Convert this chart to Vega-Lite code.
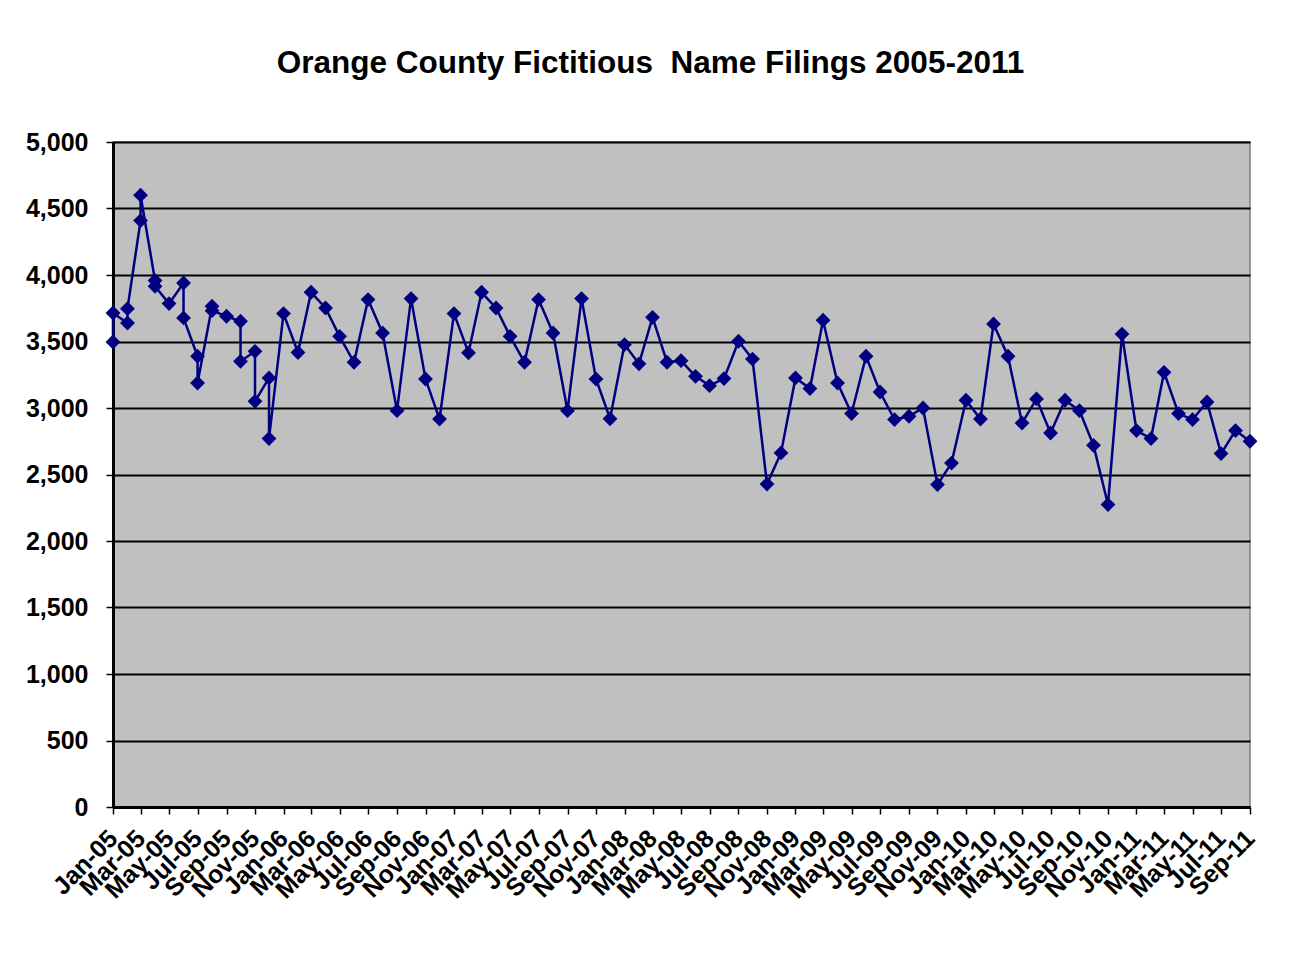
{
  "$schema": "https://vega.github.io/schema/vega-lite/v6.json",
  "autosize": "none",
  "width": 1137,
  "height": 665,
  "padding": {"left": 113, "top": 142, "right": 44, "bottom": 149},
  "background": "#ffffff",
  "title": {
    "text": "Orange County Fictitious \u00a0Name Filings 2005-2011",
    "font": "Liberation Sans",
    "fontWeight": "bold",
    "fontSize": 31.5,
    "color": "#000000",
    "anchor": "middle",
    "dx": -31,
    "offset": 51
  },
  "data": {
    "values": [
      {"i": 0, "date": "2005/01/01", "filings": 3496},
      {"i": 1, "date": "2005/01/01", "filings": 3714},
      {"i": 2, "date": "2005/02/01", "filings": 3639},
      {"i": 3, "date": "2005/02/01", "filings": 3747},
      {"i": 4, "date": "2005/03/01", "filings": 4409},
      {"i": 5, "date": "2005/03/01", "filings": 4600},
      {"i": 6, "date": "2005/04/01", "filings": 3958},
      {"i": 7, "date": "2005/04/01", "filings": 3915},
      {"i": 8, "date": "2005/05/01", "filings": 3785},
      {"i": 9, "date": "2005/06/01", "filings": 3940},
      {"i": 10, "date": "2005/06/01", "filings": 3677},
      {"i": 11, "date": "2005/07/01", "filings": 3389},
      {"i": 12, "date": "2005/07/01", "filings": 3188},
      {"i": 13, "date": "2005/08/01", "filings": 3765},
      {"i": 14, "date": "2005/08/01", "filings": 3732},
      {"i": 15, "date": "2005/09/01", "filings": 3690},
      {"i": 16, "date": "2005/10/01", "filings": 3652},
      {"i": 17, "date": "2005/10/01", "filings": 3351},
      {"i": 18, "date": "2005/11/01", "filings": 3426},
      {"i": 19, "date": "2005/11/01", "filings": 3050},
      {"i": 20, "date": "2005/12/01", "filings": 3226},
      {"i": 21, "date": "2005/12/01", "filings": 2770},
      {"i": 22, "date": "2006/01/01", "filings": 3710},
      {"i": 23, "date": "2006/02/01", "filings": 3417},
      {"i": 24, "date": "2006/03/01", "filings": 3870},
      {"i": 25, "date": "2006/04/01", "filings": 3752},
      {"i": 26, "date": "2006/05/01", "filings": 3539},
      {"i": 27, "date": "2006/06/01", "filings": 3344},
      {"i": 28, "date": "2006/07/01", "filings": 3815},
      {"i": 29, "date": "2006/08/01", "filings": 3564},
      {"i": 30, "date": "2006/09/01", "filings": 2980},
      {"i": 31, "date": "2006/10/01", "filings": 3823},
      {"i": 32, "date": "2006/11/01", "filings": 3218},
      {"i": 33, "date": "2006/12/01", "filings": 2917},
      {"i": 34, "date": "2007/01/01", "filings": 3710},
      {"i": 35, "date": "2007/02/01", "filings": 3415},
      {"i": 36, "date": "2007/03/01", "filings": 3870},
      {"i": 37, "date": "2007/04/01", "filings": 3752},
      {"i": 38, "date": "2007/05/01", "filings": 3539},
      {"i": 39, "date": "2007/06/01", "filings": 3344},
      {"i": 40, "date": "2007/07/01", "filings": 3815},
      {"i": 41, "date": "2007/08/01", "filings": 3564},
      {"i": 42, "date": "2007/09/01", "filings": 2980},
      {"i": 43, "date": "2007/10/01", "filings": 3823},
      {"i": 44, "date": "2007/11/01", "filings": 3218},
      {"i": 45, "date": "2007/12/01", "filings": 2919},
      {"i": 46, "date": "2008/01/01", "filings": 3477},
      {"i": 47, "date": "2008/02/01", "filings": 3332},
      {"i": 48, "date": "2008/03/01", "filings": 3682},
      {"i": 49, "date": "2008/04/01", "filings": 3344},
      {"i": 50, "date": "2008/05/01", "filings": 3356},
      {"i": 51, "date": "2008/06/01", "filings": 3238},
      {"i": 52, "date": "2008/07/01", "filings": 3168},
      {"i": 53, "date": "2008/08/01", "filings": 3221},
      {"i": 54, "date": "2008/09/01", "filings": 3502},
      {"i": 55, "date": "2008/10/01", "filings": 3368},
      {"i": 56, "date": "2008/11/01", "filings": 2428},
      {"i": 57, "date": "2008/12/01", "filings": 2662},
      {"i": 58, "date": "2009/01/01", "filings": 3226},
      {"i": 59, "date": "2009/02/01", "filings": 3146},
      {"i": 60, "date": "2009/03/01", "filings": 3660},
      {"i": 61, "date": "2009/04/01", "filings": 3188},
      {"i": 62, "date": "2009/05/01", "filings": 2958},
      {"i": 63, "date": "2009/06/01", "filings": 3389},
      {"i": 64, "date": "2009/07/01", "filings": 3120},
      {"i": 65, "date": "2009/08/01", "filings": 2913},
      {"i": 66, "date": "2009/09/01", "filings": 2938},
      {"i": 67, "date": "2009/10/01", "filings": 3000},
      {"i": 68, "date": "2009/11/01", "filings": 2424},
      {"i": 69, "date": "2009/12/01", "filings": 2586},
      {"i": 70, "date": "2010/01/01", "filings": 3058},
      {"i": 71, "date": "2010/02/01", "filings": 2917},
      {"i": 72, "date": "2010/03/01", "filings": 3632},
      {"i": 73, "date": "2010/04/01", "filings": 3389},
      {"i": 74, "date": "2010/05/01", "filings": 2887},
      {"i": 75, "date": "2010/06/01", "filings": 3068},
      {"i": 76, "date": "2010/07/01", "filings": 2812},
      {"i": 77, "date": "2010/08/01", "filings": 3058},
      {"i": 78, "date": "2010/09/01", "filings": 2980},
      {"i": 79, "date": "2010/10/01", "filings": 2719},
      {"i": 80, "date": "2010/11/01", "filings": 2274},
      {"i": 81, "date": "2010/12/01", "filings": 3556},
      {"i": 82, "date": "2011/01/01", "filings": 2830},
      {"i": 83, "date": "2011/02/01", "filings": 2770},
      {"i": 84, "date": "2011/03/01", "filings": 3268},
      {"i": 85, "date": "2011/04/01", "filings": 2958},
      {"i": 86, "date": "2011/05/01", "filings": 2913},
      {"i": 87, "date": "2011/06/01", "filings": 3045},
      {"i": 88, "date": "2011/07/01", "filings": 2657},
      {"i": 89, "date": "2011/08/01", "filings": 2830},
      {"i": 90, "date": "2011/09/01", "filings": 2750}
    ]
  },
  "encoding": {
    "x": {
      "field": "date",
      "type": "temporal",
      "scale": {"domain": [{"year": 2005, "month": 1, "date": 1}, {"year": 2011, "month": 9, "date": 1}], "nice": false},
      "axis": {
        "title": null,
        "format": "%b-%y",
        "tickCount": {"interval": "month", "step": 2},
        "labelAngle": -45,
        "labelAlign": "right",
        "labelBaseline": "middle",
        "labelFont": "Liberation Sans",
        "labelFontWeight": "bold",
        "labelFontSize": 25,
        "labelColor": "#000000",
        "labelOverlap": false,
        "labelPadding": 20,
        "labelFlush": false,
        "grid": false,
        "domainColor": "#000000",
        "domainWidth": 3,
        "tickColor": "#000000",
        "tickWidth": 1.5,
        "tickSize": 7
      }
    },
    "y": {
      "field": "filings",
      "type": "quantitative",
      "scale": {"domain": [0, 5000], "nice": false, "zero": true},
      "axis": {
        "title": null,
        "values": [0, 500, 1000, 1500, 2000, 2500, 3000, 3500, 4000, 4500, 5000],
        "format": ",.0f",
        "labelFont": "Liberation Sans",
        "labelFontWeight": "bold",
        "labelFontSize": 25,
        "labelColor": "#000000",
        "labelPadding": 18,
        "grid": true,
        "gridColor": "#000000",
        "gridWidth": 2,
        "domainColor": "#000000",
        "domainWidth": 3,
        "tickColor": "#000000",
        "tickWidth": 1.5,
        "tickSize": 7
      }
    },
    "order": {"field": "i", "type": "quantitative"}
  },
  "layer": [
    {"mark": {"type": "line", "color": "#000080", "strokeWidth": 2.5}},
    {"mark": {"type": "point", "shape": "diamond", "filled": true, "color": "#000080", "size": 220, "opacity": 1}}
  ],
  "config": {
    "view": {"fill": "#C0C0C0", "stroke": "#808080", "strokeWidth": 1.5}
  }
}
